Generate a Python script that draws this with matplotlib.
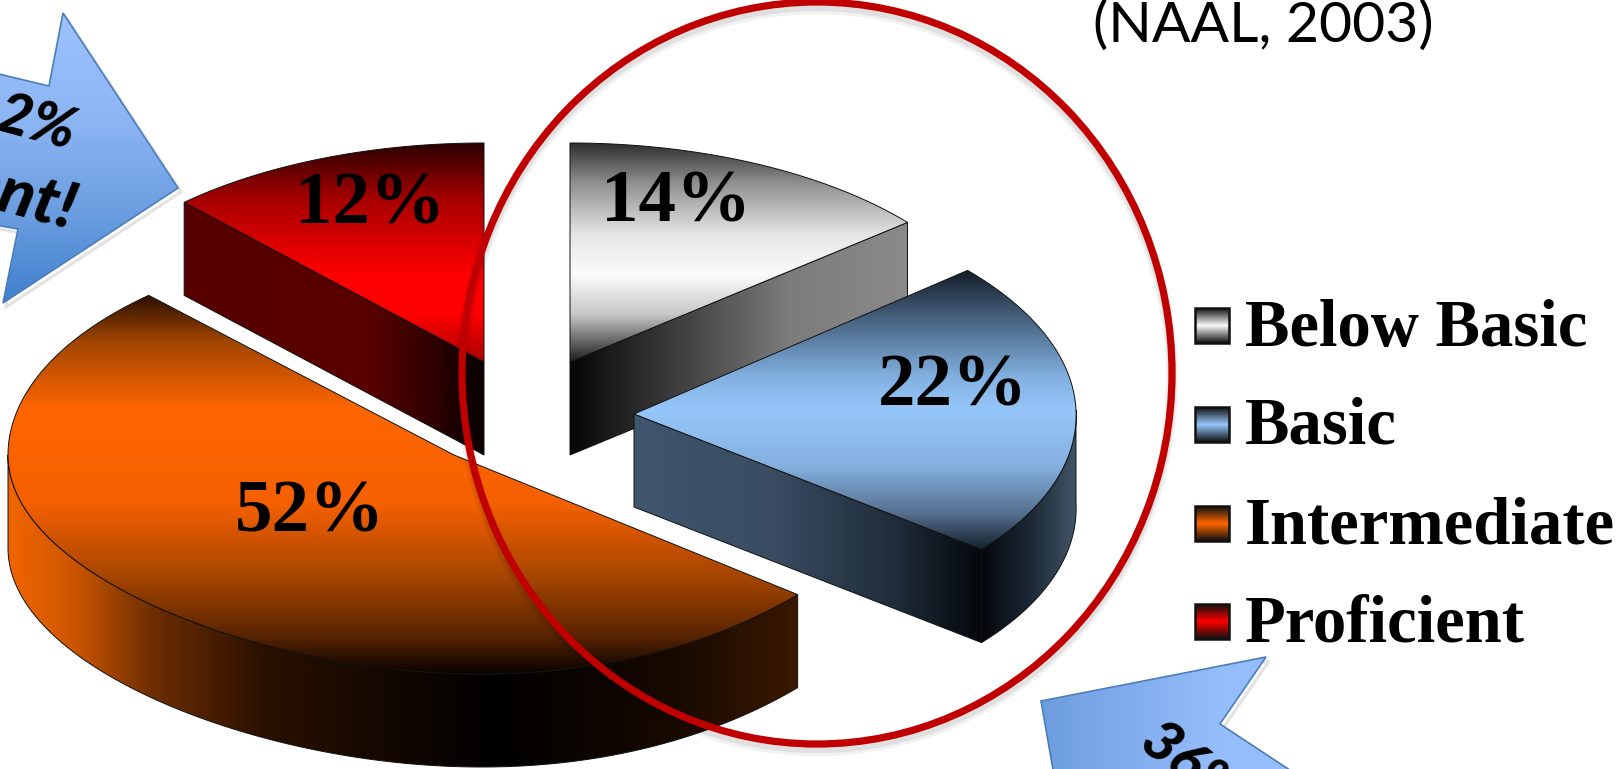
import numpy as np
import matplotlib
matplotlib.use("Agg")
import matplotlib.pyplot as plt
from matplotlib.colors import LinearSegmentedColormap
from matplotlib.patches import Ellipse, Polygon, Rectangle

# Adult literacy levels
categories = ["Below Basic", "Basic", "Intermediate", "Proficient"]
values = [14, 22, 52, 12]
source_note = "(NAAL, 2003)"

W, H = 1620, 769
B_RADIUS = 219
DEPTH = 93

# apex of each exploded slice and its horizontal radius, in pixels
apex = {"Below Basic": (570, 362), "Basic": (634, 414), "Intermediate": (454, 455), "Proficient": (484, 362)}
a_radius = {"Below Basic": 438, "Basic": 442, "Intermediate": 446, "Proficient": 438}
# small corrections for the perspective of the 3-D pie
shear = {"Basic": 0.05}
arc_lift = {"Basic": 4}
front_lean = {"Intermediate": 34}
label_pos = {"Below Basic": (676, 222), "Basic": (953, 405), "Intermediate": (310, 532), "Proficient": (370, 223)}

face_colours = {"Below Basic": "#fbfbfb", "Basic": "#96c7fa", "Intermediate": "#ff6600", "Proficient": "#ff0000"}

# colour ramps: (position, colour)
top_ramp = {
    "Below Basic": [(0, "#2e2e2e"), (0.18, "#8f8f8f"), (0.42, "#e6e6e6"), (0.6, "#fbfbfb"), (0.78, "#c8c8c8"), (1, "#1e1e1e")],
    "Basic": [(0, "#141d29"), (0.18, "#496582"), (0.38, "#82b0e0"), (0.5, "#96c7fa"), (0.7, "#84b0df"), (0.87, "#56708f"), (1, "#14202c")],
    "Intermediate": [(0, "#2a1000"), (0.12, "#a04500"), (0.3, "#ff6600"), (0.55, "#f56000"), (0.75, "#a34400"), (0.9, "#592400"), (1, "#0a0300")],
    "Proficient": [(0, "#2a0000"), (0.25, "#a50000"), (0.6, "#ff0000"), (0.78, "#ff0000"), (1, "#aa0000")],
}
cut_ramp = {
    "Below Basic": [(0, "#060606"), (0.35, "#444444"), (0.65, "#7c7c7c"), (1, "#8a8a8a")],
    "Basic": [(0, "#3f566e"), (0.4, "#394c62"), (0.75, "#1f2c3a"), (1, "#05080c")],
    "Proficient": [(0, "#560000"), (0.62, "#5a0000"), (0.85, "#2a0000"), (1, "#080000")],
}
rim_ramp = {
    "Basic": [(0, "#05080c"), (0.5, "#1c2834"), (1, "#425568")],
    "Intermediate": [(0, "#f06400"), (0.08, "#cc5600"), (0.18, "#6e2e00"), (0.32, "#2a1100"), (0.62, "#000000"), (0.85, "#180a00"), (1, "#3a1800")],
}
rim_span = {"Basic": (90, None), "Intermediate": (None, 270)}
arrow_ramp = [(0, "#9dc3ff"), (0.35, "#8eb6f4"), (0.7, "#6a9de0"), (1, "#3f80cc")]
lower_arrow_ramp = [(0, "#6d9ddf"), (0.5, "#96bdfb"), (1, "#96bdfb")]


def ramp(stops):
    return LinearSegmentedColormap.from_list("r", [(p, c) for p, c in stops])


def rim_point(name, theta):
    cx, cy = apex[name]
    a = a_radius[name]
    t = np.radians(theta)
    dy = -B_RADIUS * np.cos(t)
    x = cx + a * np.sin(t) + shear.get(name, 0) * dy
    y = cy + dy - arc_lift.get(name, 0)
    if name in front_lean and lean_from <= theta <= 270:
        x += front_lean[name] * np.sin(np.pi * (theta - lean_from) / (270 - lean_from)) ** 2
    return x, y


def arc(name, t0, t1, n=160):
    return [rim_point(name, t) for t in np.linspace(t0, t1, n)]


def gradient_fill(ax, pts, stops, vertical=True, zorder=2, edge="#111111", lw=0.7):
    pts = np.asarray(pts)
    x0, x1 = pts[:, 0].min(), pts[:, 0].max()
    y0, y1 = pts[:, 1].min(), pts[:, 1].max()
    g = np.linspace(0, 1, 256)
    g = g[:, None] if vertical else g[None, :]
    im = ax.imshow(g, cmap=ramp(stops), vmin=0, vmax=1, extent=(x0, x1, y1, y0),
                   aspect="auto", zorder=zorder, interpolation="bilinear")
    patch = Polygon(pts, closed=True, fc="none", ec=edge, lw=lw, zorder=zorder + 0.1, joinstyle="miter")
    ax.add_patch(patch)
    im.set_clip_path(patch)


def soft_shadow(ax, pts, zorder, dx=3, dy=4):
    pts = np.asarray(pts, dtype=float) + (dx, dy)
    ax.add_patch(Polygon(pts, closed=True, fc="none", ec="#000000", lw=3, alpha=0.05, zorder=zorder))
    ax.add_patch(Polygon(pts, closed=True, fc="none", ec="#000000", lw=1.5, alpha=0.07, zorder=zorder))


fig = plt.figure(figsize=(W / 100, H / 100), dpi=100)
ax = fig.add_axes([0, 0, 1, 1])
ax.set_xlim(0, W)
ax.set_ylim(H, 0)
ax.axis("off")

# slices run clockwise from twelve o'clock
edges = np.concatenate([[0], np.cumsum(values)]) * 3.6
lean_from = edges[categories.index("Intermediate")]
draw_order = ["Proficient", "Intermediate", "Below Basic", "Basic"]
for name in draw_order:
    i = categories.index(name)
    t0, t1 = edges[i], edges[i + 1]
    c = apex[name]
    z = 2 + draw_order.index(name)
    curve = arc(name, t0, t1)

    # cut face towards the viewer
    if name in cut_ramp:
        corner = rim_point(name, t0 if t1 > 180 else t1)
        cut = [c, corner, (corner[0], corner[1] + DEPTH), (c[0], c[1] + DEPTH)]
        gradient_fill(ax, cut, cut_ramp[name], vertical=False, zorder=z)

    # outer wall
    if name in rim_ramp:
        lo, hi = rim_span[name]
        lo = t0 if lo is None else lo
        hi = t1 if hi is None else hi
        top = arc(name, lo, hi)
        low = [(x, y + DEPTH) for x, y in top][::-1]
        gradient_fill(ax, top + low, rim_ramp[name], vertical=False, zorder=z)

    # top face
    gradient_fill(ax, [c] + curve, top_ramp[name], zorder=z + 0.3)

    ax.text(*label_pos[name], f"{values[i]}%", family="Liberation Serif", weight="bold",
            fontsize=54, color="black", ha="center", va="baseline", zorder=20)

# ring around the two lowest levels
ring = dict(width=710, height=742, angle=0, fc="none")
for off, alpha, lw in [(6, 0.05, 9), (5, 0.07, 6)]:
    ax.add_patch(Ellipse((817, 373 + off), ec="black", lw=lw, alpha=alpha, zorder=21, **ring))
ax.add_patch(Ellipse((817, 373), ec="#c00000", lw=5.2, zorder=22, **ring))

# legend
swatch_top = [308, 407, 506, 604]
baselines = [346, 444, 543, 641]
for name, y0, base in zip(categories, swatch_top, baselines):
    swatch = ramp([(0, "#111111"), (0.5, face_colours[name]), (1, "#111111")])
    ax.imshow(np.linspace(0, 1, 64)[:, None], cmap=swatch, vmin=0, vmax=1,
              extent=(1195, 1229, y0 + 35, y0), aspect="auto", zorder=6)
    ax.add_patch(Rectangle((1195, y0), 34, 35, fc="none", ec="#111111", lw=1.8, zorder=7))
    ax.text(1245, base, name, family="Liberation Serif", weight="bold", fontsize=48,
            color="black", ha="left", va="baseline", zorder=20)

# callout arrows, both running off the slide
left_arrow = [(-60, 60), (49, 86), (63, 13), (178, 188), (3, 303), (18, 229), (-60, 215)]
soft_shadow(ax, left_arrow, 1.5)
gradient_fill(ax, left_arrow, arrow_ramp, zorder=2, edge="#4a7ebb", lw=1.2)
ax.text(75, 135, "12%", family="Lato", weight="black", style="italic", fontsize=42,
        rotation=-15, rotation_mode="anchor", ha="right", va="center", zorder=20)
ax.text(75, 212, "Proficient!", family="Lato", weight="black", style="italic", fontsize=47,
        rotation=-15, rotation_mode="anchor", ha="right", va="center", zorder=20)

lower_arrow = [(1266, 657), (1220, 724), (1402, 844), (1066, 844), (1041, 701)]
soft_shadow(ax, lower_arrow, 1.5)
gradient_fill(ax, lower_arrow, lower_arrow_ramp, vertical=False, zorder=2, edge="#4a7ebb", lw=1.2)
ax.text(1190, 768, "36%", family="Lato", weight="black", style="italic", fontsize=42,
        rotation=-38, rotation_mode="anchor", ha="center", va="center", zorder=20)

ax.text(1093, 42, source_note, family="Lato", fontsize=41, color="black", ha="left", va="baseline", zorder=20)

ax.set_xlim(0, W)
ax.set_ylim(H, 0)
fig.savefig("out.png", dpi=100)
